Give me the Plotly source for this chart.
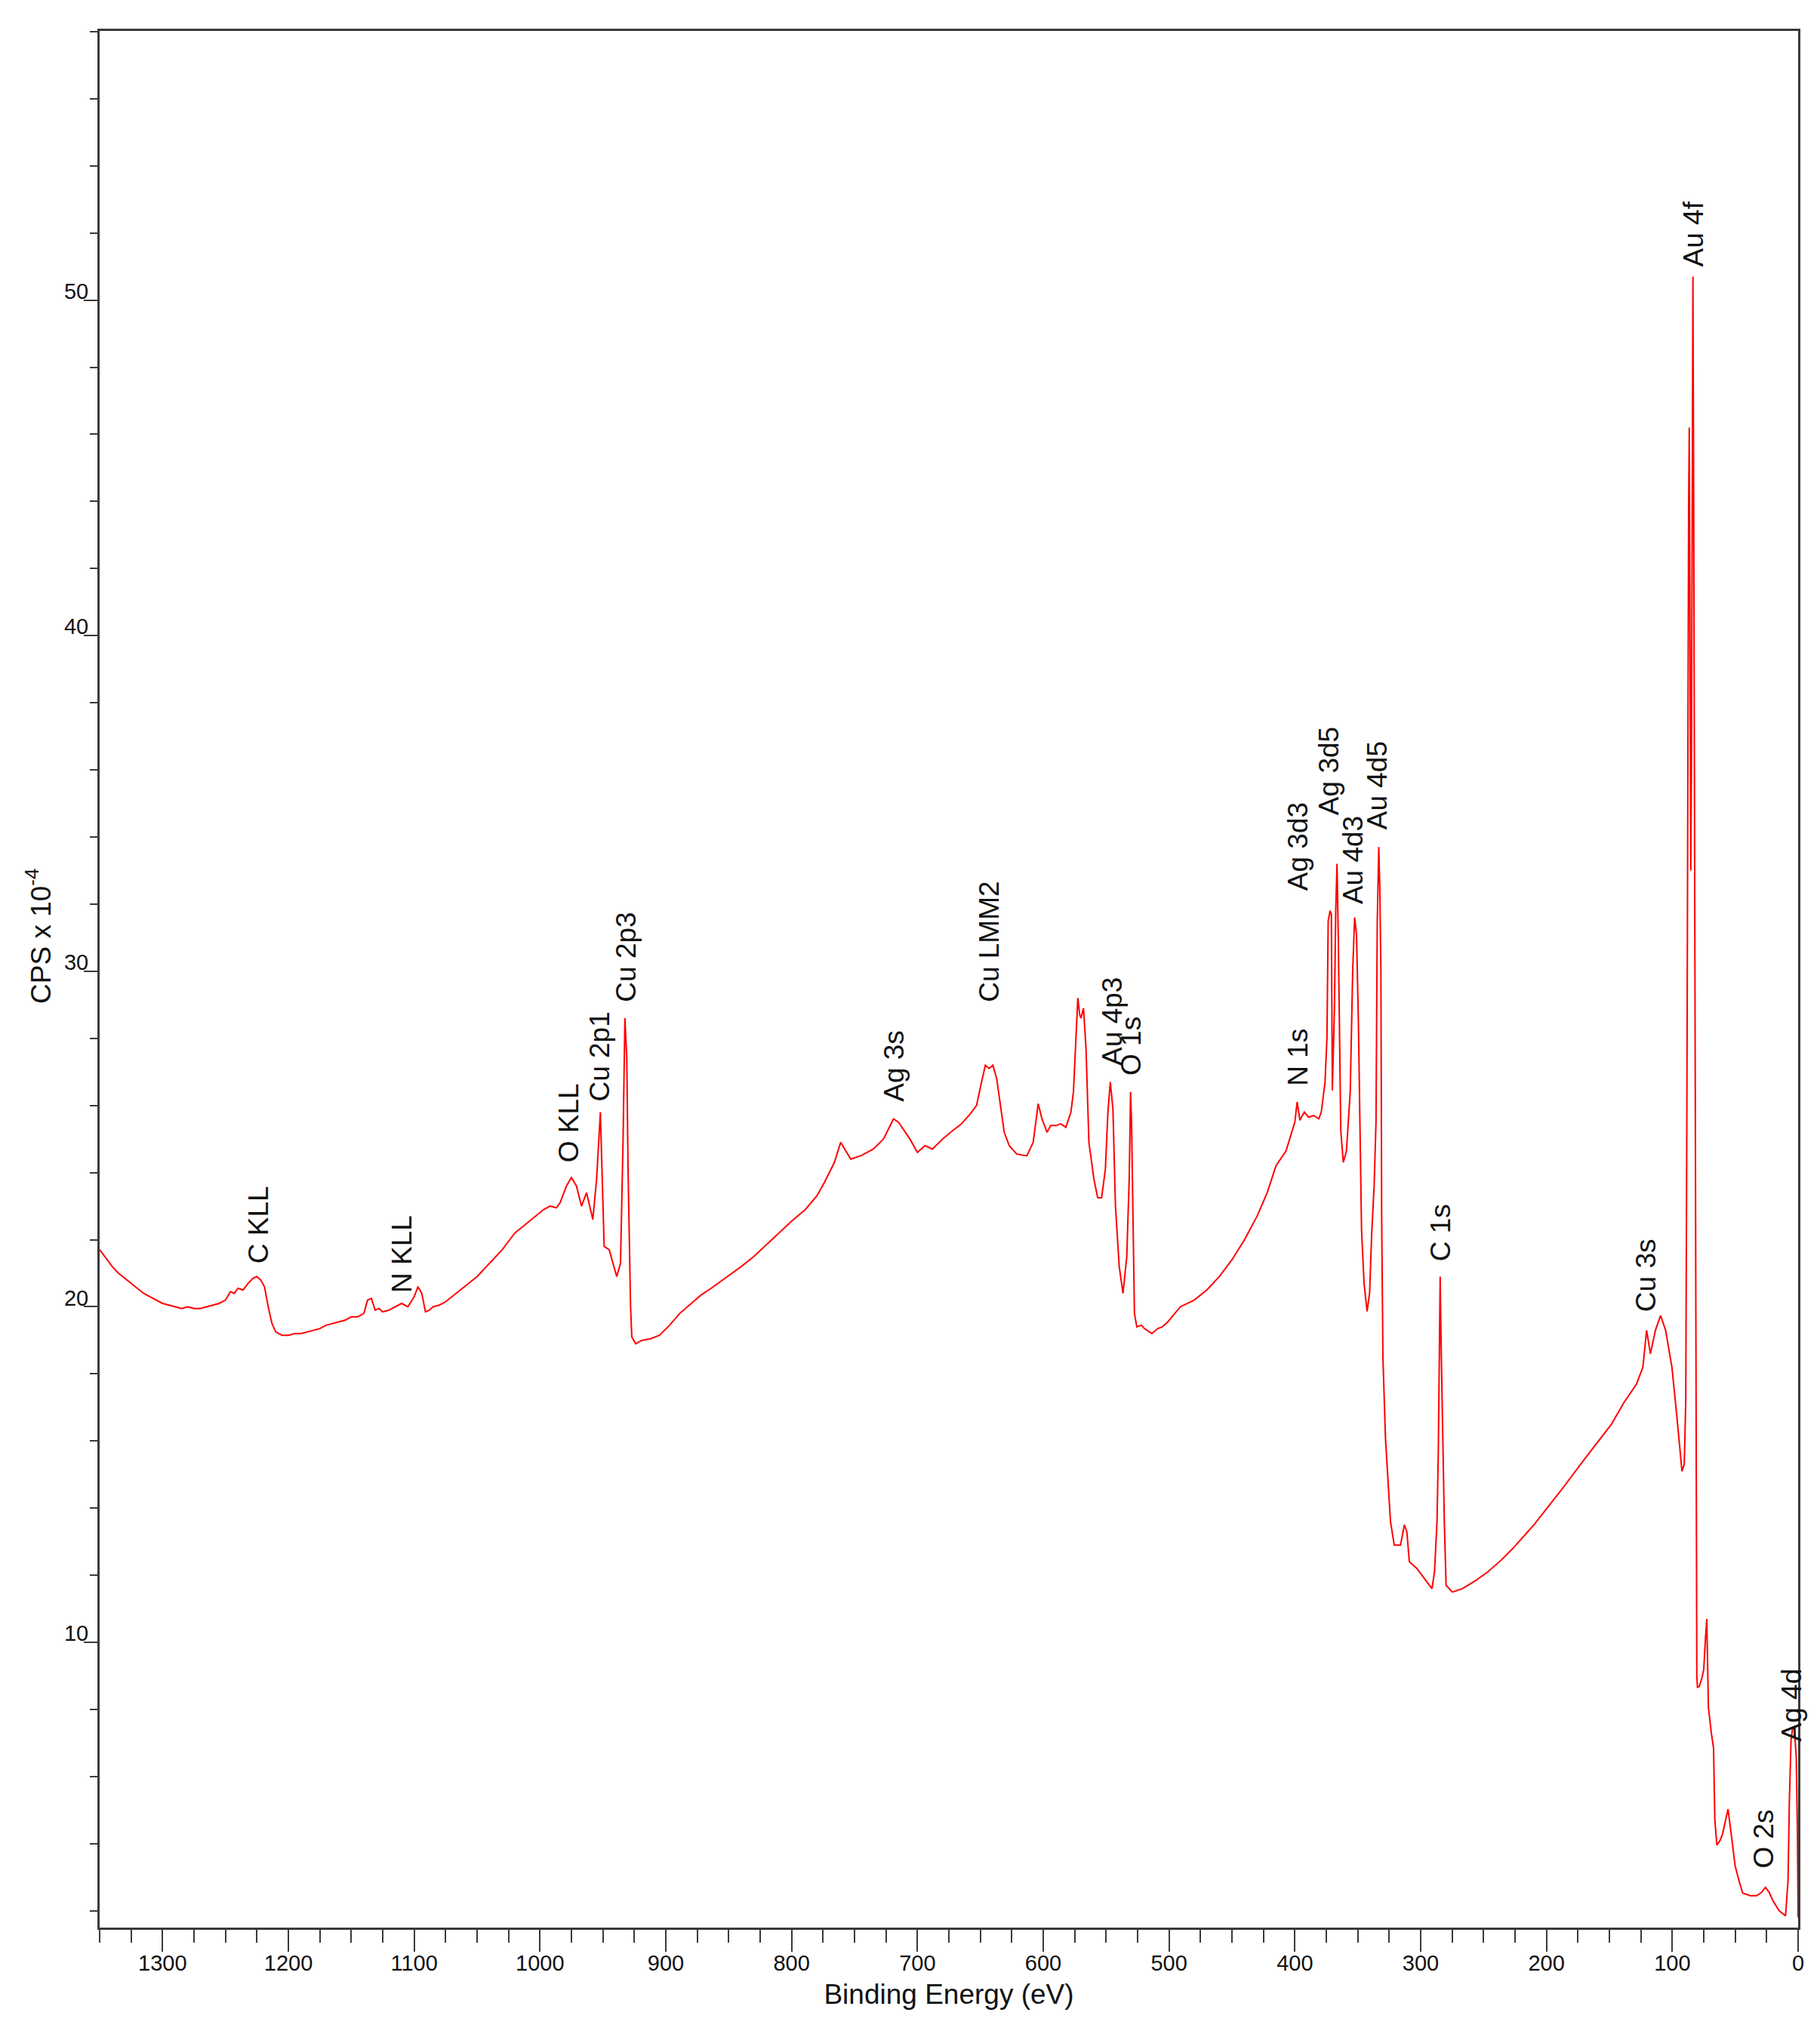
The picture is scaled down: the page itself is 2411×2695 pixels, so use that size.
import plotly.graph_objects as go

# Binding energy (eV) and intensity (CPS x 10^-4)
binding_energy = [
    1350, 1345, 1340, 1335, 1330, 1325, 1320, 1315, 1310, 1305, 1300, 1295, 1290, 1285,
    1280, 1275, 1270, 1265, 1260, 1255, 1250, 1246, 1243, 1240, 1236, 1232, 1228, 1225,
    1222, 1219, 1216, 1213, 1210, 1205, 1200, 1195, 1190, 1185, 1180, 1175, 1170, 1165,
    1160, 1155, 1150, 1145, 1140, 1137, 1134, 1131, 1128, 1125, 1120, 1115, 1110, 1105,
    1100, 1097, 1094, 1091, 1088, 1085, 1080, 1075, 1070, 1065, 1060, 1055, 1050, 1045,
    1040, 1035, 1030, 1025, 1020, 1015, 1010, 1005, 1000, 997, 992, 987, 984, 979, 975,
    971, 967, 963, 958, 955, 952, 950, 949, 945, 942, 939, 936, 934, 932.5, 931, 930,
    928, 927, 924, 919, 912, 905, 897, 889, 880, 872, 864, 851, 840, 830, 820, 810, 800,
    789, 780, 774, 766, 761, 756, 753, 745, 735, 727, 719, 715, 706, 700, 694, 688, 680,
    672, 665, 658, 653, 649, 646, 643, 640, 637, 634, 631, 627, 621, 613, 608, 604, 601,
    597, 594, 590, 586, 582, 578, 576, 574, 572.5, 571, 570, 568, 566, 563.7, 559.7,
    556.7, 553.6, 550.6, 548.6, 546.7, 544.6, 542.6, 539.6, 536.6, 533.6, 531.6, 530.6,
    529.8, 528.6, 527.5, 525.6, 522, 519.6, 516, 513.6, 509, 505.5, 501, 497.5, 491,
    480, 470, 460, 450, 440, 430, 422, 415, 407, 400, 398.2, 396, 392.5, 389, 385, 381,
    379, 376, 374.5, 373.5, 372, 371, 370.2, 368.5, 367.5, 366.5, 365.5, 364.5, 363.5,
    361.5, 359, 356, 354, 352.5, 351, 349.5, 348, 347, 345, 342.6, 340.6, 339, 337,
    335.5, 334.5, 333.3, 332.5, 331.6, 331, 330, 328, 326, 324, 321, 316, 313, 311, 309,
    303, 297, 291, 289, 287, 286, 285, 284.5, 283.8, 282.9, 281.2, 279.8, 274.8, 266.8,
    256, 246.7, 236, 226.7, 210, 189, 169, 148.4, 138.4, 128.4, 123.4, 120.4, 117.4,
    113.4, 109.3, 105.3, 100.3, 96.3, 92.3, 90.5, 89.3, 88.4, 87.8, 87.0, 86.5, 86.0,
    85.3, 84.8, 84.2, 83.6, 83.0, 82.4, 81.8, 81.2, 80.5, 80.0, 78.6, 76.2, 75, 73.5,
    72.6, 71.3, 69, 67.2, 66.2, 64.6, 62, 60.2, 57.5, 55.7, 53.1, 50.1, 47, 44.1, 38.1,
    33, 29, 26, 23, 20, 15, 10, 8, 7, 5.6, 4.5, 3.1, 1.5, 0.6, 0,
]
cps = [
    21.7, 21.45, 21.2, 21.0, 20.85, 20.7, 20.55, 20.4, 20.3, 20.2, 20.1, 20.05, 20.0, 19.95,
    20.0, 19.95, 19.95, 20.0, 20.05, 20.1, 20.2, 20.45, 20.4, 20.55, 20.5, 20.7, 20.85, 20.9,
    20.8, 20.6, 20.0, 19.5, 19.25, 19.15, 19.15, 19.2, 19.2, 19.25, 19.3, 19.35, 19.45, 19.5,
    19.55, 19.6, 19.7, 19.7, 19.8, 20.2, 20.25, 19.9, 19.95, 19.85, 19.9, 20.0, 20.1, 20.0,
    20.3, 20.6, 20.4, 19.85, 19.9, 20.0, 20.05, 20.15, 20.3, 20.45, 20.6, 20.75, 20.9, 21.1,
    21.3, 21.5, 21.7, 21.95, 22.2, 22.35, 22.5, 22.65, 22.8, 22.9, 23.0, 22.95, 23.1, 23.6, 23.85,
    23.6, 23.0, 23.4, 22.6, 23.8, 25.8, 23.0, 21.8, 21.7, 21.3, 20.9, 21.3, 24.9, 28.6, 27.4, 24.1,
    20.0, 19.1, 18.9, 19.0, 19.05, 19.15, 19.45, 19.8, 20.1, 20.35, 20.55, 20.9, 21.2, 21.5, 21.85, 22.2, 22.55,
    22.9, 23.3, 23.7, 24.3, 24.9, 24.6, 24.4, 24.5, 24.7, 25.0, 25.6, 25.5, 25.0, 24.6, 24.8, 24.7, 25.0,
    25.25, 25.45, 25.75, 26.0, 26.7, 27.2, 27.1, 27.2, 26.8, 26.0, 25.2, 24.8, 24.55, 24.5, 24.9, 26.05, 25.6,
    25.2, 25.4, 25.4, 25.45, 25.35, 25.8, 26.4, 27.96, 29.2, 28.7, 28.6, 28.9, 27.7, 24.9, 23.8,
    23.25, 23.25, 24.1, 25.8, 26.7, 25.9, 23.0, 21.2, 20.4, 21.5, 23.9, 26.4,
    25.5, 22.65, 19.8, 19.4, 19.45, 19.35, 19.25, 19.2, 19.35, 19.4, 19.55, 19.7, 20.0,
    20.2, 20.5, 20.9, 21.4, 22.0, 22.7, 23.4, 24.2, 24.65, 25.5, 26.1, 25.56, 25.8, 25.65, 25.7, 25.6,
    25.8, 26.7, 28.0, 31.5, 31.8, 31.7, 26.45, 28.95, 31.8, 33.2, 31.1, 28.0, 25.25,
    24.3, 24.65, 26.4, 30.05, 31.6, 31.1, 28.5, 24.5, 22.3, 20.7, 19.86, 20.4, 22.1, 23.6,
    25.5, 31.5, 33.7, 32.5, 30.0, 22.7, 18.5, 16.1, 14.9, 13.6, 12.9, 12.9, 13.5, 13.3, 12.4,
    12.2, 11.9, 11.6, 12.1, 13.6, 15.6, 19.5, 20.9, 19.0, 16.8, 13.6, 11.7, 11.5, 11.6,
    11.85, 12.1, 12.45, 12.8, 13.5, 14.5, 15.5, 16.5, 17.15, 17.7, 18.2, 19.3, 18.6,
    19.3, 19.74, 19.3, 18.2, 16.7, 15.1, 15.3, 17.2, 26.0, 35.0, 44.0, 46.2, 42.0,
    33.0, 36.0, 45.0, 50.7, 44.0, 34.0, 24.0, 15.0, 9.0, 8.66, 8.68, 8.97, 9.2, 10.2,
    10.7, 8.07, 7.3, 6.85, 4.73, 3.96, 4.1, 4.27, 4.7, 5.03, 4.27, 3.35, 2.9, 2.53, 2.45,
    2.45, 2.55, 2.7, 2.55, 2.3, 2.0, 1.85, 2.9, 5.2, 7.1, 7.4, 7.5, 6.6, 4.5, 1.8,
]

# Peak labels: text, energy position, label base (bottom) in CPS units
peak_names = ["C KLL", "N KLL", "O KLL", "Cu 2p1", "Cu 2p3", "Ag 3s", "Cu LMM2", "Au 4p3",
              "O 1s", "N 1s", "Ag 3d3", "Ag 3d5", "Au 4d3", "Au 4d5", "C 1s", "Cu 3s",
              "Au 4f", "Ag 4d", "O 2s"]
peak_x = [1223.5, 1109.7, 977, 952.5, 932, 719, 643, 545.5, 530, 398, 397, 373, 354, 334,
          284, 120.4, 83.3, 5.1, 27]
peak_base = [21.25, 20.37, 24.26, 26.07, 29.04, 26.07, 29.04, 27.15, 26.84, 26.53, 32.35,
             34.6, 31.94, 34.17, 21.3, 19.8, 50.94, 7.0, 3.22]

x_ticks = list(range(0, 1301, 100))
y_ticks = [10, 20, 30, 40, 50]

FONT = "Liberation Sans, Arial, sans-serif"
INK = "#111111"
AXIS = "#3a3a3a"

fig = go.Figure()
fig.add_trace(go.Scatter(
    x=binding_energy, y=cps, mode="lines",
    line=dict(color="#ff0000", width=2),
    showlegend=False, hoverinfo="skip",
))

annotations = []
for name, px, py in zip(peak_names, peak_x, peak_base):
    annotations.append(dict(
        x=px, y=py, xref="x", yref="y", text=name, showarrow=False,
        textangle=-90, xanchor="center", yanchor="bottom",
        font=dict(family=FONT, size=37, color=INK),
    ))
# y-axis title, placed like the original (above the plot's vertical centre)
annotations.append(dict(
    x=0, y=0.5225, xref="paper", yref="paper", xshift=-80,
    text="CPS x 10<sup>-4</sup>", showarrow=False, textangle=-90,
    xanchor="center", yanchor="middle",
    font=dict(family=FONT, size=37, color=INK),
))

# page body has an 8 px default margin: shrink the figure so the page does not scroll
fig.update_layout(
    width=2395, height=2679,
    margin=dict(l=124, r=21, t=33, b=133, autoexpand=False),
    paper_bgcolor="white", plot_bgcolor="white",
    font=dict(family=FONT, color=INK),
    annotations=annotations,
)

axis_line = dict(showline=True, linecolor=AXIS, linewidth=3, mirror=True,
                 showgrid=False, zeroline=False)

fig.update_xaxes(
    range=[1350, 0], tickvals=x_ticks, ticktext=[str(v) for v in x_ticks],
    ticks="outside", ticklen=29, tickwidth=2, tickcolor=AXIS,
    minor=dict(dtick=25, tick0=0, ticks="outside", ticklen=17, tickwidth=2, tickcolor=AXIS),
    tickfont=dict(family=FONT, size=29, color=INK),
    ticklabelstandoff=-10,
    title=dict(text="Binding Energy (eV)", font=dict(family=FONT, size=37, color=INK), standoff=14),
    automargin=False,
    **axis_line,
)
fig.update_yaxes(
    range=[1.5, 58.02], tickvals=y_ticks, ticktext=[str(v) for v in y_ticks],
    ticks="outside", ticklen=18, tickwidth=2, tickcolor=AXIS,
    minor=dict(dtick=2, tick0=0, ticks="outside", ticklen=10, tickwidth=2, tickcolor=AXIS),
    tickfont=dict(family=FONT, size=29, color=INK),
    ticklabelshift=-12, ticklabelstandoff=-12,
    automargin=False,
    **axis_line,
)

fig.write_html("out.html")
